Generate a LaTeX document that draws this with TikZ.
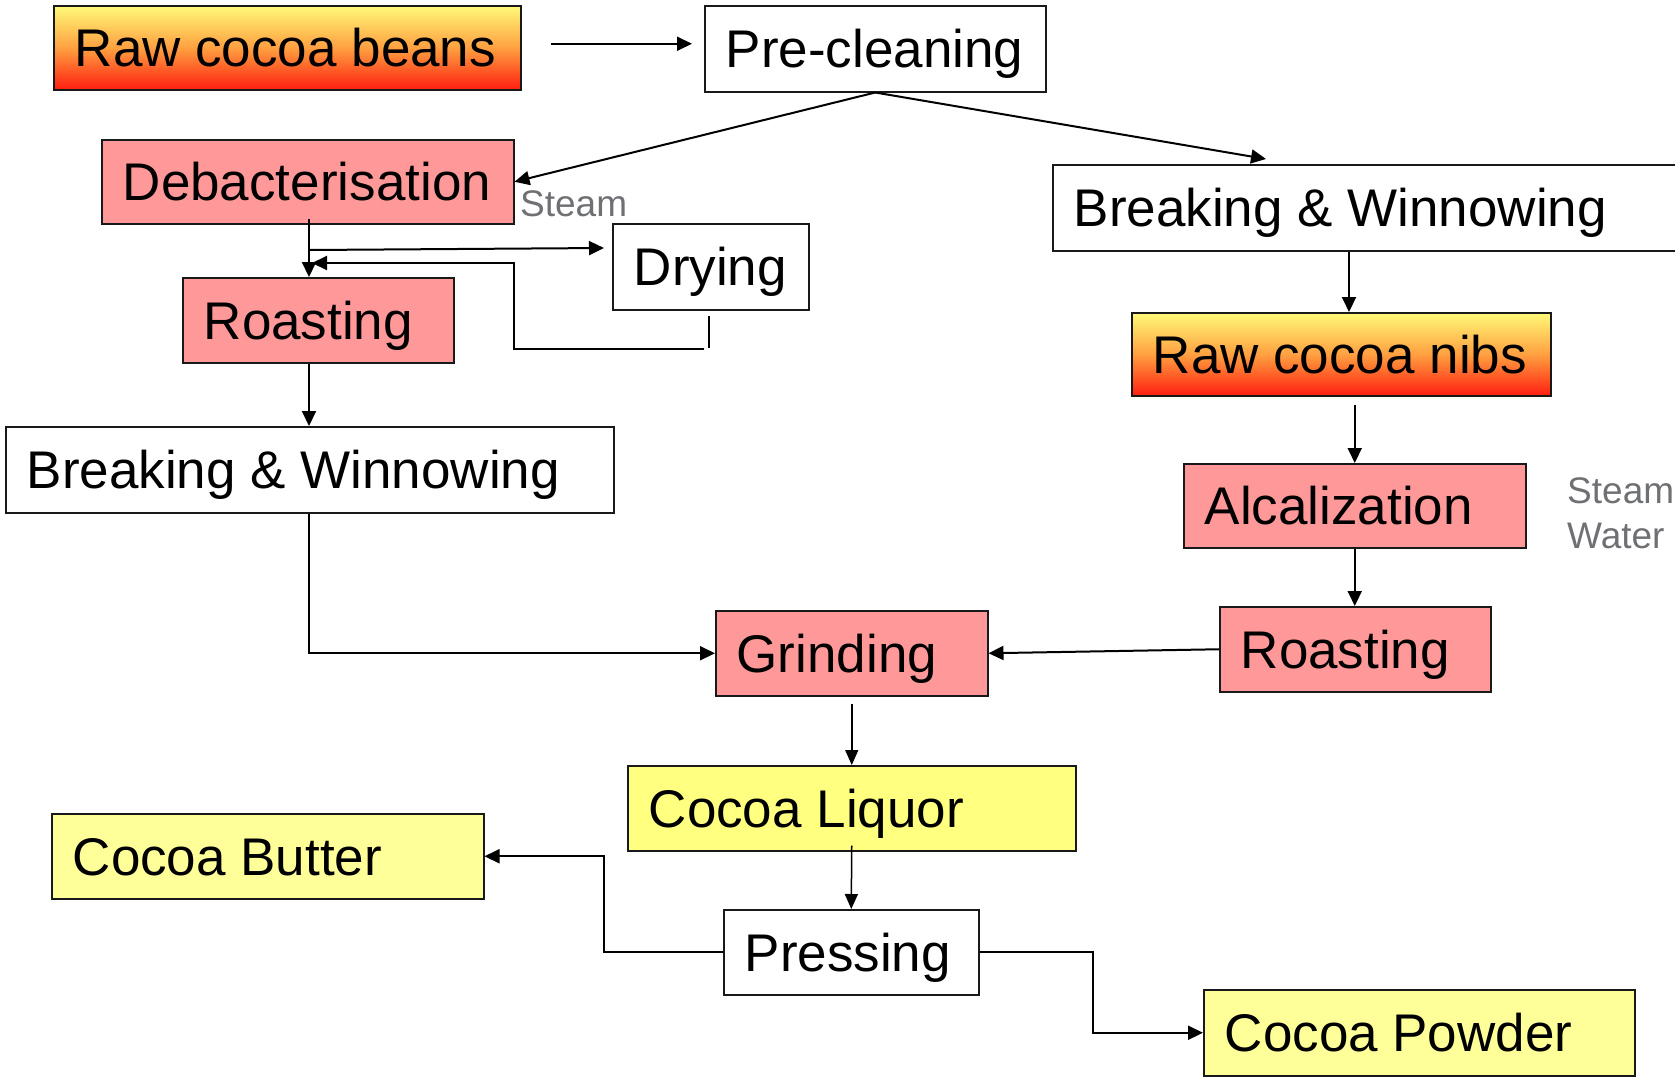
\documentclass[tikz,border=0pt]{standalone}
\usepackage{fontspec}
\setmainfont{Liberation Sans}
\usetikzlibrary{arrows.meta,calc}
\definecolor{pinkbox}{RGB}{255,153,153}
\definecolor{liqyellow}{RGB}{255,255,128}
\definecolor{paleyellow}{RGB}{255,255,153}
\definecolor{lblgray}{RGB}{110,112,115}
\definecolor{gradtop}{RGB}{255,250,120}
\definecolor{gradmid}{RGB}{255,160,64}
\definecolor{gradbot}{RGB}{255,30,16}
\newcommand{\boxtxt}[2]{\makebox[#1][l]{#2}}
\tikzset{
  box/.style={draw=black!90, line width=1.5pt, anchor=north west, inner xsep=21pt, inner ysep=0pt,
    text height=38pt, text depth=0pt, font=\fontsize{53}{60}\selectfont},
  grad/.style={top color=gradtop, bottom color=gradbot, middle color=gradmid},
  arr/.style={draw=black, line width=2pt, -{Triangle[length=15pt,width=14pt]}},
  thinarr/.style={draw=black, line width=1.5pt, -{Triangle[length=15pt,width=13pt]}},
  plainline/.style={draw=black, line width=2pt},
  lbl/.style={text=lblgray, font=\fontsize{37}{44}\selectfont, inner sep=0pt},
}
\begin{document}
\begin{tikzpicture}[x=1pt,y=-1pt]
\useasboundingbox (0,0) rectangle (1675,1077);
% boxes
\node[box, grad, minimum width=467pt, minimum height=84pt] (beans) at (53,5) {\boxtxt{425pt}{Raw cocoa beans}};
\node[box, fill=white, minimum width=341pt, minimum height=86pt] (pre) at (704,5) {\boxtxt{299pt}{Pre-cleaning}};
\node[box, fill=pinkbox, minimum width=412pt, minimum height=84pt] (debac) at (101,139) {\boxtxt{370pt}{Debacterisation}};
\node[box, fill=white, minimum width=196pt, minimum height=86pt] (dry) at (612,223) {\boxtxt{154pt}{Drying}};
\node[box, fill=pinkbox, minimum width=271pt, minimum height=85pt] (roastL) at (182,277) {\boxtxt{229pt}{Roasting}};
\node[box, fill=white, minimum width=608pt, minimum height=86pt] (bwL) at (5,426) {\boxtxt{566pt}{Breaking \& Winnowing}};
\node[box, fill=white, minimum width=700pt, minimum height=86pt] (bwR) at (1052,164) {\boxtxt{658pt}{Breaking \& Winnowing}};
\node[box, grad, minimum width=419pt, minimum height=83pt] (nibs) at (1131,312) {\boxtxt{377pt}{Raw cocoa nibs}};
\node[box, fill=pinkbox, minimum width=342pt, minimum height=84pt] (alcal) at (1183,463) {\boxtxt{300pt}{Alcalization}};
\node[box, fill=pinkbox, minimum width=271pt, minimum height=85pt] (roastR) at (1219,606) {\boxtxt{229pt}{Roasting}};
\node[box, fill=pinkbox, minimum width=272pt, minimum height=85pt] (grind) at (715,610) {\boxtxt{230pt}{Grinding}};
\node[box, fill=liqyellow, minimum width=448pt, minimum height=85pt] (liquor) at (627,765) {\boxtxt{406pt}{Cocoa Liquor}};
\node[box, fill=paleyellow, minimum width=432pt, minimum height=85pt] (butter) at (51,813) {\boxtxt{390pt}{Cocoa Butter}};
\node[box, fill=white, minimum width=255pt, minimum height=85pt] (press) at (723,909) {\boxtxt{213pt}{Pressing}};
\node[box, fill=paleyellow, minimum width=431pt, minimum height=86pt] (powder) at (1203,989) {\boxtxt{389pt}{Cocoa Powder}};
% labels
\node[lbl, anchor=base west] (steam1) at (520,216) {Steam};
\node[lbl, anchor=base west] (steam2) at (1567,503) {Steam};
\node[lbl, anchor=base west] (water) at (1567,548) {Water};
% helper coordinates
\coordinate (j1) at (309,219);
\coordinate (j2) at ($(bwR.south west)+(297,0)$);
\coordinate (ret) at (312,263);
\coordinate (drydown) at ($(dry.south)+(-2,37)$);
\coordinate (retcorner) at (704,349);
% connectors
\draw[arr] ($(beans.east)+(29,-4)$) -- ($(pre.west)+(-12,-5)$);
\draw[arr] (pre.south) -- (debac.east);
\draw[arr] (pre.south) -- ($(bwR.north west)+(214,-5)$);
\draw[arr] (j1) -- (j1 |- roastL.north);
\draw[arr] ($(j1)+(0,31)$) -- ($(dry.north west)+(-8,25)$);
\draw[plainline] ($(dry.south)+(-2,5)$) -- (drydown);
\draw[arr] (retcorner) -- (514,349) |- (ret);
\draw[arr] (j1 |- roastL.south) -- (j1 |- bwL.north);
\draw[arr] (j1 |- bwL.south) |- (grind.west);
\draw[arr] (j2) -- (j2 |- nibs.north);
\draw[arr] ($(alcal.north |- nibs.south)+(0,8)$) -- (alcal.north);
\draw[arr] (alcal.south) -- (alcal.south |- roastR.north);
\draw[arr] (roastR.west) -- (grind.east);
\draw[thinarr] ($(grind.south)+(0,7)$) -- (liquor.north);
\draw[thinarr] ($(liquor.south)+(0,-6)$) -- (press.north);
\draw[arr] (press.west) -- ++(-119,0) |- (butter.east);
\draw[arr] (press.east) -- ++(113,0) |- (powder.west);
\end{tikzpicture}
\end{document}
